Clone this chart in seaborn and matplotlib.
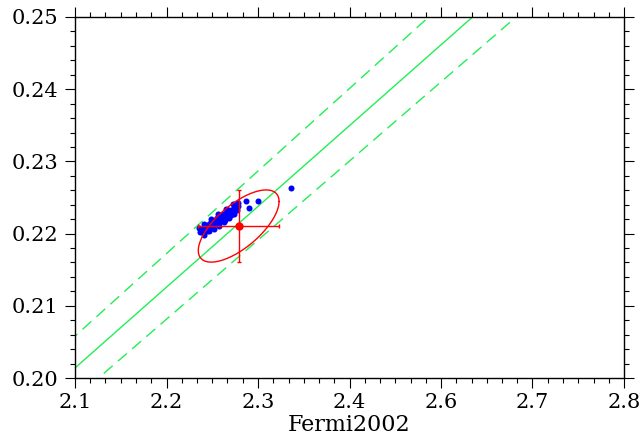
import numpy as np
import pandas as pd
import seaborn as sns
import matplotlib.pyplot as plt

# blue points (x, y)
pts_x = [2.2591, 2.2616, 2.2642, 2.2629, 2.2667, 2.2693, 2.2718, 2.2705, 2.2744, 2.2769,
         2.2795, 2.2782, 2.2820, 2.2845, 2.2871, 2.2858, 2.2896, 2.2922, 2.2947, 2.2935,
         2.2973, 2.2998, 2.3011, 2.3024, 2.3049, 2.3075, 2.3062, 2.3036, 2.2985, 2.2909,
         2.2833, 2.2756, 2.2680, 2.2960, 2.2884, 2.2807, 2.2731, 2.2655,
         2.2642, 2.2705, 2.2769, 2.2833, 2.2896, 2.2960, 2.3024, 2.2578, 2.2642, 2.2731,
         2.2820, 2.2922, 2.3011, 2.3075,
         2.3176, 2.3329, 2.3215, 2.3749]
pts_y = [0.22022, 0.22036, 0.22050, 0.22078, 0.22064, 0.22092, 0.22105, 0.22133, 0.22119, 0.22147,
         0.22161, 0.22188, 0.22175, 0.22202, 0.22216, 0.22244, 0.22230, 0.22258, 0.22272, 0.22299,
         0.22285, 0.22313, 0.22341, 0.22313, 0.22355, 0.22382, 0.22327, 0.22368, 0.22258, 0.22188,
         0.22147, 0.22092, 0.22036, 0.22327, 0.22272, 0.22216, 0.22161, 0.22105,
         0.21981, 0.22036, 0.22064, 0.22105, 0.22161, 0.22216, 0.22272, 0.22078, 0.22133, 0.22202,
         0.22272, 0.22341, 0.22410, 0.22424,
         0.22452, 0.22452, 0.22355, 0.22632]

# red measurement with errors and correlation
meas_x, meas_y = 2.3087, 0.22105
err_x, err_y = 0.0515, 0.0050
rho = 0.68

# green lines y = k * x
line_slopes = [0.0959, 0.0980, 0.0939]
line_styles = ["solid", "dashed", "dashed"]

xtick_labels = ["2.1", "2.2", "2.3", "2.4", "2.6", "2.7", "2.8"]
ytick_labels = ["0.20", "0.21", "0.22", "0.23", "0.24", "0.25"]

sns.set_style("ticks")
plt.rcParams["font.family"] = ["DejaVu Serif"]

fig = plt.figure(figsize=(6.42, 4.46), dpi=100)
ax = fig.add_axes([75 / 642, 68 / 446, 549 / 642, 361 / 446])

xs = np.array([2.0, 2.9])
for k, ls in zip(line_slopes, line_styles):
    df = pd.DataFrame({"x": xs, "y": k * xs})
    sns.lineplot(data=df, x="x", y="y", ax=ax, color="#22ee55", lw=1.0,
                 linestyle="-" if ls == "solid" else "--")
    if ls == "dashed":
        ax.lines[-1].set_dashes((8.5, 5))

pts = pd.DataFrame({"x": pts_x, "y": pts_y})
sns.scatterplot(data=pts, x="x", y="y", ax=ax, color="blue", s=19, linewidth=0, zorder=4)

# ellipse from errors and correlation
t = np.linspace(0, 2 * np.pi, 200)
ex = meas_x + err_x * np.cos(t)
ey = meas_y + err_y * (rho * np.cos(t) + np.sqrt(1 - rho ** 2) * np.sin(t))
ax.plot(ex, ey, color="red", lw=1.0, zorder=5)
ax.errorbar([meas_x], [meas_y], xerr=[err_x], yerr=[err_y], fmt="o", color="red",
            ms=5, lw=1.0, capsize=1.5, capthick=1.0, zorder=6)

ax.set_xlim(2.1, 2.8)
ax.set_ylim(0.20, 0.25)
ax.set_xticks(np.linspace(2.1, 2.8, 7))
ax.set_xticklabels(xtick_labels)
ax.set_xticks(np.linspace(2.1, 2.8, 37), minor=True)
ax.set_yticks(np.linspace(0.20, 0.25, 6))
ax.set_yticklabels(ytick_labels)
ax.set_yticks(np.linspace(0.20, 0.25, 26), minor=True)

ax.tick_params(which="both", direction="out", top=True, right=True, width=0.8,
               labelsize=15, color="black", labelcolor="black")
ax.tick_params(axis="x", which="major", length=7, pad=4)
ax.tick_params(axis="y", which="major", length=7, pad=5)
ax.tick_params(which="minor", length=3.5)
for s in ax.spines.values():
    s.set_visible(True)
    s.set_linewidth(1.0)
    s.set_color("black")

ax.set_xlabel("Fermi2002", fontsize=16, labelpad=1, color="black")
ax.set_ylabel("")

fig.savefig("out.png", dpi=100)
